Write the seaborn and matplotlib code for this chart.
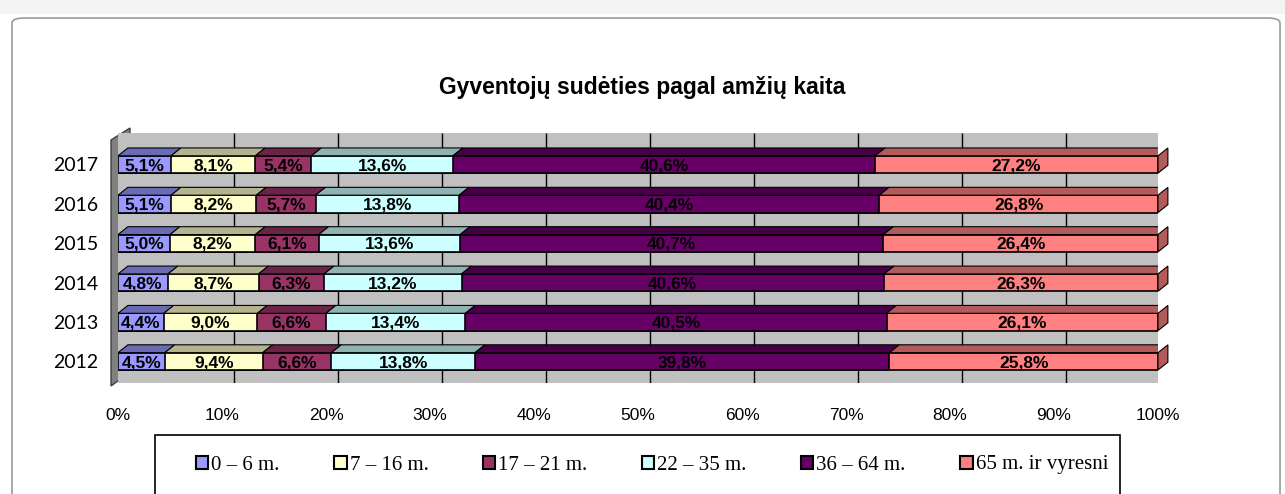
import numpy as np
import pandas as pd
import matplotlib
matplotlib.use("Agg")
import matplotlib.pyplot as plt
import matplotlib.colors as mcolors
from matplotlib.patches import Rectangle, Polygon, FancyBboxPatch
import seaborn as sns

# data (shares in %)
years = ["2017", "2016", "2015", "2014", "2013", "2012"]
groups = ["0 – 6 m.", "7 – 16 m.", "17 – 21 m.", "22 – 35 m.", "36 – 64 m.", "65 m. ir vyresni"]
age_0_6 = [5.1, 5.1, 5.0, 4.8, 4.4, 4.5]
age_7_16 = [8.1, 8.2, 8.2, 8.7, 9.0, 9.4]
age_17_21 = [5.4, 5.7, 6.1, 6.3, 6.6, 6.6]
age_22_35 = [13.6, 13.8, 13.6, 13.2, 13.4, 13.8]
age_36_64 = [40.6, 40.4, 40.7, 40.6, 40.5, 39.8]
age_65 = [27.2, 26.8, 26.4, 26.3, 26.1, 25.8]
colors = ["#9999FF", "#FFFFCC", "#993366", "#CCFFFF", "#660066", "#FF8080"]

df = pd.DataFrame(dict(zip(groups, [age_0_6, age_7_16, age_17_21, age_22_35, age_36_64, age_65])),
                  index=years)
share = df.div(df.sum(axis=1), axis=0) * 100  # 100% stacked
cum = share.cumsum(axis=1)

sns.set_style("white")
plt.rcParams["font.family"] = ["Liberation Sans", "DejaVu Sans"]
plt.rcParams["text.color"] = "black"
plt.rcParams["xtick.color"] = "black"
plt.rcParams["ytick.color"] = "black"

fig = plt.figure(figsize=(12.85, 4.94), dpi=100)
W, H = 1285, 494
ax = fig.add_axes([118 / W, 1 - 383 / H, 1040 / W, 250 / H])

# outer chart frame and spreadsheet strip
fig.patches.append(Rectangle((0, 1 - 14 / H), 1, 14 / H, transform=fig.transFigure,
                             facecolor="#f3f3f3", edgecolor="none", zorder=-5))
fig.patches.append(FancyBboxPatch((12 / W, -0.05), 1268 / W, 1 - 18 / H + 0.05,
                                  boxstyle="round,pad=0,rounding_size=0.01",
                                  transform=fig.transFigure, facecolor="white",
                                  edgecolor="#9a9a9a", lw=1.2, zorder=-4))
# left side wall of the 3D box
fig.patches.append(Polygon([(111 / W, 1 - 140 / H), (130 / W, 1 - 128 / H),
                            (130 / W, 1 - 372 / H), (111 / W, 1 - 386 / H)],
                           closed=True, transform=fig.transFigure,
                           facecolor="#808080", edgecolor="#404040", lw=1, zorder=-1))

ax.set_facecolor("#C0C0C0")
for s in ax.spines.values():
    s.set_visible(False)

# stacked bars: draw cumulative totals from the widest down
bar_h = 0.44
for i in range(len(groups) - 1, -1, -1):
    sns.barplot(x=cum.iloc[:, i].values, y=years, order=years, orient="h", color=colors[i],
                saturation=1, width=bar_h, edgecolor="black", linewidth=1.2, ax=ax, zorder=3)

ax.set_xlim(0, 100)
ax.set_ylim(len(years) - 0.45, -0.8)

# wall gridlines
ticks = np.arange(0, 101, 10)
ax.vlines(ticks[1:] + 1.2, -0.8, len(years) - 0.45, color="black", lw=1, zorder=1)

# 3D top / end faces
dx, dy = 0.95, 0.2
for yi, yr in enumerate(years):
    top = yi - bar_h / 2
    for gi, g in enumerate(groups):
        x0 = cum.loc[yr].iloc[gi] - share.loc[yr].iloc[gi]
        x1 = cum.loc[yr].iloc[gi]
        dark = tuple(np.array(mcolors.to_rgb(colors[gi])) * 0.7)
        ax.add_patch(Polygon([(x0, top), (x1, top), (x1 + dx, top - dy), (x0 + dx, top - dy)],
                             closed=True, facecolor=dark, edgecolor="black", lw=0.8, zorder=4))
        if gi == len(groups) - 1:
            ax.add_patch(Polygon([(x1, top), (x1 + dx, top - dy), (x1 + dx, top - dy + bar_h),
                                  (x1, top + bar_h)], closed=True, facecolor=dark,
                                 edgecolor="black", lw=0.8, zorder=4, clip_on=False))
        ax.text((x0 + x1) / 2, yi + 0.03, f"{share.loc[yr].iloc[gi]:.1f}%".replace(".", ","),
                ha="center", va="center", fontsize=12.5, fontweight="bold", color="black",
                zorder=6)

ax.set_xticks(ticks)
ax.set_xticklabels([f"{t}%" for t in ticks], fontsize=12.5)
ax.tick_params(axis="x", length=0, pad=18)
ax.tick_params(axis="y", length=0, pad=14, labelsize=14, labelfontfamily="Lato")
ax.set_xlabel("")
ax.set_ylabel("")

fig.text(0.5, 1 - 87 / H, "Gyventojų sudėties pagal amžių kaita", ha="center", va="center",
         fontsize=16.5, fontweight="bold", color="black")

# legend
fig.patches.append(Rectangle((155 / W, -0.05), 965 / W, (494 - 435) / H + 0.05,
                             transform=fig.transFigure, facecolor="white",
                             edgecolor="black", lw=1.2, zorder=2))
handles = [Rectangle((0, 0), 1, 1, facecolor=c, edgecolor="black", lw=1.5) for c in colors]
leg = fig.legend(handles, groups, loc="center", bbox_to_anchor=(652 / W, 1 - 465 / H),
                 ncol=6, frameon=False, handlelength=0.6, handleheight=0.6,
                 handletextpad=0.15, columnspacing=2.6,
                 prop={"family": "Liberation Serif", "size": 15})
leg.set_zorder(3)

fig.savefig("out.png", dpi=100)
